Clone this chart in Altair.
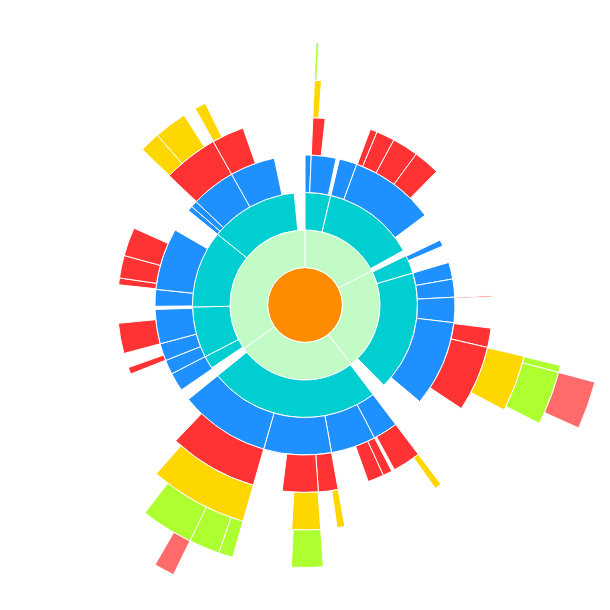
import altair as alt
import pandas as pd

# Arc extents (start angle, end angle) in degrees, clockwise from top, per depth
depth0 = [[0, 360]]
depth1 = [[0, 63], [63, 142], [142, 234.5], [234.5, 360]]
depth2 = [[0, 13.2], [13.2, 61], [64, 73.5], [73.5, 135.5], [142.8, 231],
          [236, 242.6], [242.6, 269], [269, 309], [309, 354.5]]
depth3 = [[0, 2.4], [2.4, 12], [13.3, 20.2], [20.2, 53.2], [64.3, 66.8],
          [73.5, 80], [80, 87], [87, 96.8], [96.8, 130.1], [142.8, 152.4],
          [152.4, 169.8], [169.8, 196], [196, 231], [235.5, 242.7],
          [242.7, 248.3], [248.3, 255], [255, 268.3], [269.5, 276], [276, 300],
          [309, 311], [311, 313.5], [313.5, 330.7], [330.7, 348.2]]
depth4 = [[2.4, 6.2], [20.4, 22.6], [22.6, 28.3], [28.3, 36.4], [36.4, 44.6],
          [87.1, 87.5], [97.1, 103.1], [103.1, 123.5], [142.8, 151.5],
          [152.4, 155.3], [155.3, 160.3], [169.8, 175.9], [175.9, 187],
          [196, 223.6], [248.4, 250.5], [255, 264.4], [276.2, 278.3],
          [278.3, 285.3], [285.3, 294.2], [313.6, 330.7], [330.7, 340.7]]
depth5 = [[2.4, 4.2], [103.2, 117.8], [142.8, 144.6], [169.8, 171.8],
          [176, 183.4], [196, 221.4], [313.7, 319], [319, 327.5], [330.8, 333.7]]
depth6 = [[2.4, 3.0], [103.3, 104.9], [104.9, 116.8], [176, 183],
          [196, 199.2], [199.2, 206], [206, 217.6]]
depth7 = [[104.9, 114.2], [206, 210]]

levels = [depth0, depth1, depth2, depth3, depth4, depth5, depth6, depth7]
level_colors = ["#ff8c00", "#c2fbc6", "#00ced1", "#1e90ff",
                "#ff3333", "#ffd700", "#adff2f", "#ff6b6b"]

rows = []
for d, arcs in enumerate(levels):
    for a0, a1 in arcs:
        rows.append({"depth": d, "a0": a0, "a1": a1, "r0": d, "r1": d + 1})
df = pd.DataFrame(rows)

theta_scale = alt.Scale(domain=[0, 360], range=[0, 6.283185307179586])
radius_scale = alt.Scale(type="linear", domain=[0, 8], range=[0, 300], zero=True)

chart = alt.Chart(df).mark_arc(stroke="white", strokeWidth=1).encode(
    x=alt.value(297),
    y=alt.value(297),
    theta=alt.Theta("a0:Q", scale=theta_scale),
    theta2="a1:Q",
    radius=alt.Radius("r0:Q", scale=radius_scale),
    radius2="r1:Q",
    color=alt.Color("depth:O", scale=alt.Scale(domain=list(range(8)), range=level_colors), legend=None),
).properties(
    width=590,
    height=590,
    padding=0,
    autosize=alt.AutoSizeParams(type="none"),
).configure_view(stroke=None)

chart.save("out.html", embed_options={"renderer": "svg", "actions": False})
